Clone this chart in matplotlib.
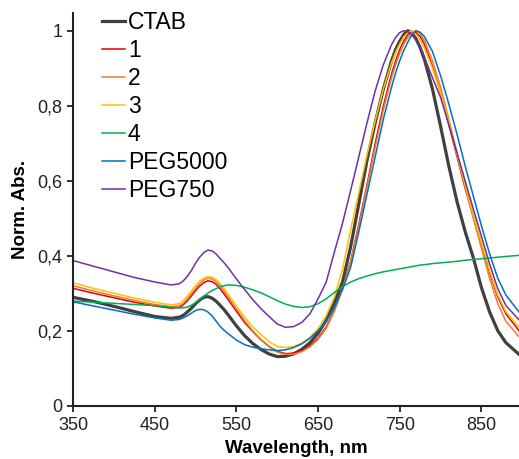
import matplotlib
matplotlib.use("Agg")
import matplotlib.pyplot as plt

plt.rcParams['font.family'] = ['Liberation Sans', 'DejaVu Sans']

# wavelength grid (nm)
wavelength = [350, 375, 400, 425, 450, 470, 480, 485, 490, 495, 500, 505, 510, 515, 520,
              525, 530, 535, 540, 550, 560, 570, 580, 590, 600, 610, 620, 630, 640, 650,
              660, 670, 680, 690, 700, 710, 720, 730, 740, 745, 750, 755, 760, 765, 770,
              775, 780, 790, 800, 810, 820, 830, 840, 850, 860, 870, 880, 896]

ctab = [.289, .278, .265, .251, .238, .233, .236, .241, .250, .260, .272, .282, .289, .291, .287,
        .279, .268, .256, .242, .213, .187, .166, .150, .138, .131, .132, .138, .150, .168, .193,
        .228, .275, .330, .425, .540, .655, .755, .845, .920, .950, .972, .990, 1.0, .993, .978,
        .955, .925, .845, .745, .640, .545, .465, .395, .315, .250, .200, .168, .137]

s1 = [.313, .300, .288, .276, .266, .260, .262, .269, .280, .293, .307, .319, .328, .333, .331,
      .324, .312, .298, .283, .252, .222, .198, .176, .158, .145, .139, .140, .147, .160, .180,
      .210, .255, .315, .385, .485, .590, .700, .800, .885, .920, .950, .973, .990, .998, .995,
      .984, .965, .905, .835, .750, .665, .580, .505, .430, .355, .290, .245, .200]

s2 = [.320, .306, .293, .281, .270, .264, .266, .273, .285, .299, .313, .326, .335, .340, .338,
      .331, .320, .305, .290, .258, .227, .200, .177, .157, .143, .137, .137, .144, .157, .177,
      .207, .252, .312, .385, .480, .585, .690, .790, .875, .910, .940, .965, .982, .995, 1.0,
      .992, .975, .920, .850, .765, .675, .585, .500, .420, .340, .272, .225, .184]

s3 = [.328, .313, .300, .287, .276, .269, .272, .280, .292, .306, .320, .332, .340, .344, .343,
      .337, .326, .312, .297, .266, .236, .210, .190, .171, .158, .155, .158, .167, .182, .205,
      .240, .290, .365, .470, .570, .670, .760, .845, .915, .943, .965, .984, .995, 1.0, .990,
      .975, .955, .900, .835, .758, .670, .590, .510, .435, .360, .295, .250, .210]

s4 = [.279, .276, .273, .270, .267, .263, .261, .261, .263, .268, .275, .283, .292, .300, .307,
      .312, .317, .320, .322, .321, .316, .309, .301, .291, .280, .271, .265, .262, .264, .272,
      .285, .302, .318, .330, .339, .346, .352, .357, .361, .363, .365, .367, .369, .371, .373,
      .375, .376, .379, .381, .383, .385, .388, .390, .392, .394, .396, .398, .401]

peg5000 = [.277, .266, .255, .244, .234, .228, .230, .234, .240, .247, .254, .257, .256, .250, .240,
           .226, .212, .201, .192, .175, .163, .156, .152, .149, .147, .149, .155, .165, .180, .200,
           .225, .262, .310, .370, .465, .565, .665, .765, .850, .888, .920, .948, .970, .990, 1.0,
           .996, .985, .945, .880, .805, .725, .640, .560, .480, .405, .340, .295, .250]

peg750 = [.387, .372, .357, .342, .330, .322, .325, .333, .345, .361, .380, .396, .408, .415, .413,
          .405, .393, .381, .368, .338, .310, .283, .259, .238, .218, .209, .211, .222, .245, .285,
          .330, .410, .487, .575, .665, .755, .840, .910, .963, .982, .995, 1.0, .997, .989, .975,
          .955, .930, .875, .822, .750, .675, .600, .525, .452, .378, .312, .267, .229]

series = [("CTAB", ctab, '#404040', 2.3),
          ("1", s1, '#E00000', 1.1),
          ("2", s2, '#ED7D31', 1.1),
          ("3", s3, '#FFC000', 1.1),
          ("4", s4, '#00B050', 1.1),
          ("PEG5000", peg5000, '#0070C0', 1.1),
          ("PEG750", peg750, '#7030A0', 1.1)]

xticks = [350, 450, 550, 650, 750, 850]
yticks = [0, 0.2, 0.4, 0.6, 0.8, 1.0]
ytick_labels = ['0', '0,2', '0,4', '0,6', '0,8', '1']

fig = plt.figure(figsize=(5.19, 4.59), dpi=100)
ax = fig.add_axes([0.1407, 0.1161, 0.8593, 0.8562])

for name, vals, col, lw in series:
    ax.plot(wavelength, vals, color=col, lw=lw, label=name)

ax.set_xlim(350, 896)
ax.set_ylim(0, 1.048)
ax.set_xticks(xticks)
ax.set_yticks(yticks)
ax.set_yticklabels(ytick_labels)
ax.tick_params(direction='out', length=4.3, width=1.3, pad=3.5, labelsize=13,
               colors='#222222')
for side in ['top', 'right']:
    ax.spines[side].set_visible(False)
for side in ['left', 'bottom']:
    ax.spines[side].set_linewidth(1.5)
    ax.spines[side].set_color('#222222')

ax.set_xlabel("Wavelength, nm", fontsize=13.5, fontweight='bold', labelpad=5)
ax.set_ylabel("Norm. Abs.", fontsize=13.5, fontweight='bold', labelpad=6)

ax.legend(loc='upper left', bbox_to_anchor=(0.029, 1.046), frameon=False, fontsize=16.5,
          handlelength=1.0, handletextpad=0.13, labelspacing=0.22, borderpad=0.2)

fig.savefig("out.png", dpi=100)
